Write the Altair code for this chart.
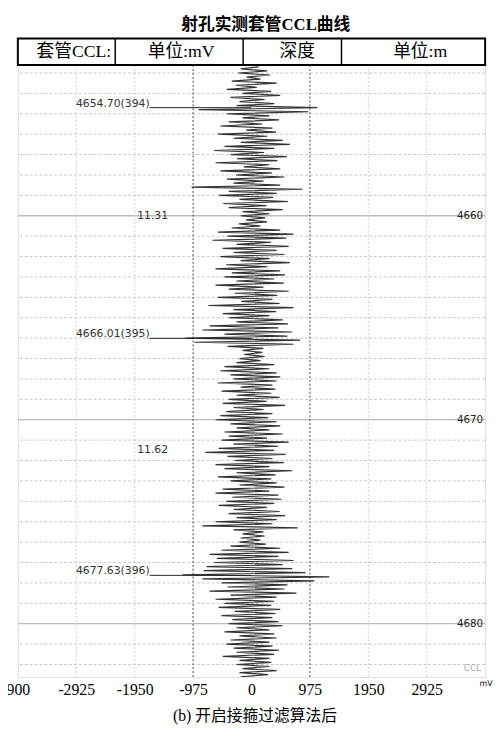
import altair as alt
import pandas as pd

# ---------------- data ----------------
DEPTH_START = 4652.7
DEPTH_STEP = 0.1
CCL_ROWS = [
    [120, -180, 260],                                               # 4652.7-4652.9
    [-220, 310, -80, 150, -330, 420, -260, 90, -410, 330],          # 4653
    [-150, 480, -350, 220, -200, 380, -250, 1100, -880, 950],       # 4654
    [-420, 300, -150, 460, -380, 180, -520, 350, -90, 410],         # 4655
    [-560, 260, -300, 520, -180, 640, -450, 380, -620, 210],        # 4656
    [-350, 590, -240, 430, -600, 300, -130, 480, -520, 340],        # 4657
    [-260, 550, -410, 200, -300, 480, -1000, 850, -380, 420],       # 4658
    [-540, 360, -200, 610, -470, 250, -380, 520, -150, 300],        # 4659
    [-180, 230, -90, 260, -210, 150, -330, 480, -560, 700],         # 4660
    [-400, 580, -650, 330, -250, 620, -480, 420, -300, 550],        # 4661
    [-520, 300, -180, 640, -420, 270, -600, 480, -330, 560],        # 4662
    [-450, 380, -250, 540, -600, 200, -380, 620, -280, 430],        # 4663
    [-560, 350, -170, 470, -720, 700, -300, 410, -480, 300],        # 4664
    [-380, 520, -250, 610, -700, 450, -820, 680, -450, 600],        # 4665
    [-1100, 810, -950, 700, -400, 200, -150, 180, -120, 220],       # 4666
    [-200, 150, -250, 380, -450, 300, -520, 420, -350, 480],        # 4667
    [-300, 420, -560, 350, -180, 400, -500, 330, -250, 470],        # 4668
    [-380, 250, -480, 560, -300, 200, -420, 350, -520, 280],        # 4669
    [-600, 420, -350, 480, -250, 300, -450, 520, -380, 260],        # 4670
    [-500, 620, -300, 450, -550, 380, -770, 570, -400, 350],        # 4671
    [-280, 540, -600, 300, -450, 680, -250, 400, -560, 330],        # 4672
    [-350, 420, -200, 550, -480, 300, -600, 450, -320, 500],        # 4673
    [-420, 380, -550, 260, -300, 470, -380, 560, -250, 420],        # 4674
    [-600, 350, -820, 770, -300, 200, -150, 220, -180, 150],        # 4675
    [-200, 240, -350, 480, -500, 620, -700, 450, -580, 700],        # 4676
    [-620, 520, -750, 680, -800, 900, -1150, 1300, -820, 1050],     # 4677
    [-500, 600, -400, 550, -700, 750, -350, 420, -600, 380],        # 4678
    [-450, 330, -550, 480, -280, 400, -500, 350, -320, 450],        # 4679
    [-380, 520, -250, 300, -450, 380, -200, 420, -350, 300],        # 4680
    [-420, 350, -300, 460, -250, 380, -480, 300, -200, 330],        # 4681
    [-250, 300, -150, 420, -200, 280, -180, 250, -150, 200],        # 4682
]
COLLAR_DEPTHS = [4654.70, 4666.01, 4677.63]
COLLAR_LABELS = ["4654.70(394)", "4666.01(395)", "4677.63(396)"]
SPACING_DEPTHS = [4660.0, 4671.5]
SPACING_LABELS = ["11.31", "11.62"]
DEPTH_LABELS = [4660, 4670, 4680]
X_TICKS = [-3900, -2925, -1950, -975, 0, 975, 1950, 2925, 3900]
X_DOMAIN = [-3900, 3900]
Y_DOMAIN = [4652.61, 4682.61]
HEADER_TEXTS = ["套管CCL:", "单位:mV", "深度", "单位:m"]
TITLE = "射孔实测套管CCL曲线"
CAPTION = "(b) 开启接箍过滤算法后"

CCL_MV = [v for row in CCL_ROWS for v in row]
DEPTHS = [round(DEPTH_START + i * DEPTH_STEP, 2) for i in range(len(CCL_MV))]

W, H = 475, 622
SERIF = "Liberation Serif, Noto Sans CJK SC"
SANS = "DejaVu Sans"

trace_df = pd.DataFrame({"depth": DEPTHS, "mv": CCL_MV})
collar_df = pd.DataFrame({"depth": COLLAR_DEPTHS, "label": COLLAR_LABELS})
spacing_df = pd.DataFrame({"depth": SPACING_DEPTHS, "label": SPACING_LABELS})
depthlab_df = pd.DataFrame({"depth": DEPTH_LABELS, "label": [str(d) for d in DEPTH_LABELS]})
meter_df = pd.DataFrame({"depth": [d for d in range(4653, 4683) if d not in DEPTH_LABELS]})
solid_df = pd.DataFrame({"depth": DEPTH_LABELS})
vgrid_light = pd.DataFrame({"mv": [-2925, -1950, 1950, 2925]})
vgrid_dark = pd.DataFrame({"mv": [-975, 975]})
one = pd.DataFrame({"k": [0]})

x_axis = alt.Axis(
    values=X_TICKS,
    labelExpr="datum.value == -3900 ? '900' : (datum.value == 3900 ? '' : '' + datum.value)",
    labelFont="Liberation Serif", labelFontSize=16, labelColor="#000",
    labelPadding=5, labelOverlap=False, labelFlush=False,
    ticks=False, domain=False, grid=False, title=None,
)


def X(field):
    return alt.X(field, type="quantitative",
                 scale=alt.Scale(domain=X_DOMAIN, nice=False, zero=False), axis=x_axis)


def Y(field):
    return alt.Y(field, type="quantitative",
                 scale=alt.Scale(domain=Y_DOMAIN, nice=False, zero=False, reverse=True), axis=None)


layers = []

# horizontal dotted grid (every metre) and solid lines every 10 m
layers.append(alt.Chart(meter_df).mark_rule(color="#c8c8c8", strokeWidth=1, strokeDash=[3, 2]).encode(y=Y("depth")))
layers.append(alt.Chart(solid_df).mark_rule(color="#bdbdbd", strokeWidth=1.3).encode(y=Y("depth")))
# vertical grid
layers.append(alt.Chart(vgrid_light).mark_rule(color="#cfcfcf", strokeWidth=1, strokeDash=[2, 2]).encode(x=X("mv")))
layers.append(alt.Chart(vgrid_dark).mark_rule(color="#444", strokeWidth=1, strokeDash=[2, 2]).encode(x=X("mv")))

# CCL trace
layers.append(alt.Chart(trace_df).mark_line(color="#333333", strokeWidth=1.2, clip=True).encode(
    x=X("mv"), y=Y("depth"), order=alt.Order("depth:Q")))

# collar markers
layers.append(alt.Chart(collar_df).mark_rule(color="#222", strokeWidth=1).encode(
    y=Y("depth"), x=alt.datum(-1700), x2=alt.datum(0)))
layers.append(alt.Chart(collar_df).mark_text(
    font=SANS, fontSize=11, color="#333", align="left", baseline="alphabetic", dy=-1).encode(
    y=Y("depth"), x=alt.value(59), text="label:N"))
layers.append(alt.Chart(spacing_df).mark_text(
    font=SANS, fontSize=11, color="#333", align="center", baseline="middle").encode(
    y=Y("depth"), x=alt.value(137), text="label:N"))
# depth labels
layers.append(alt.Chart(depthlab_df).mark_text(
    font=SANS, fontSize=10.5, color="#222", align="right", baseline="middle").encode(
    y=Y("depth"), x=alt.value(473), text="label:N"))

# CCL curve name & unit
layers.append(alt.Chart(one).mark_text(font=SANS, fontSize=9, color="#aaa", align="center",
                                       baseline="middle", text="CCL").encode(
    x=alt.value(462), y=alt.value(613)))
layers.append(alt.Chart(one).mark_text(font=SANS, fontSize=8, color="#000", align="center",
                                       baseline="middle", text="mV").encode(
    x=alt.value(476), y=alt.value(629)))

# header box
layers.append(alt.Chart(one).mark_rect(fill="white", stroke="#000", strokeWidth=2).encode(
    x=alt.value(0), x2=alt.value(W), y=alt.value(-27), y2=alt.value(0)))
for xv in [99, 229, 329]:
    layers.append(alt.Chart(one).mark_rule(color="#000", strokeWidth=1.5).encode(
        x=alt.value(xv), y=alt.value(-27), y2=alt.value(0)))
for txt, xv in zip(HEADER_TEXTS, [57, 166, 284, 409]):
    layers.append(alt.Chart(one).mark_text(font=SERIF, fontSize=18, color="#000", align="center",
                                           baseline="middle", text=txt).encode(
        x=alt.value(xv), y=alt.value(-13)))

# title and caption
layers.append(alt.Chart(one).mark_text(font=SERIF, fontSize=17, fontWeight="bold", color="#000",
                                       align="center", baseline="middle", text=TITLE).encode(
    x=alt.value(252), y=alt.value(-41)))
layers.append(alt.Chart(one).mark_text(font=SERIF, fontSize=16, color="#000",
                                       align="center", baseline="middle", text=CAPTION).encode(
    x=alt.value(241), y=alt.value(662)))

chart = alt.layer(*layers).properties(
    width=W, height=H,
    autosize=alt.AutoSizeParams(type="none"),
    padding={"left": 10, "top": 52, "right": 8, "bottom": 50},
).configure_view(stroke="#000", strokeWidth=2).configure(background="white")

chart.save("out.html", embed_options={"renderer": "svg", "actions": False})
